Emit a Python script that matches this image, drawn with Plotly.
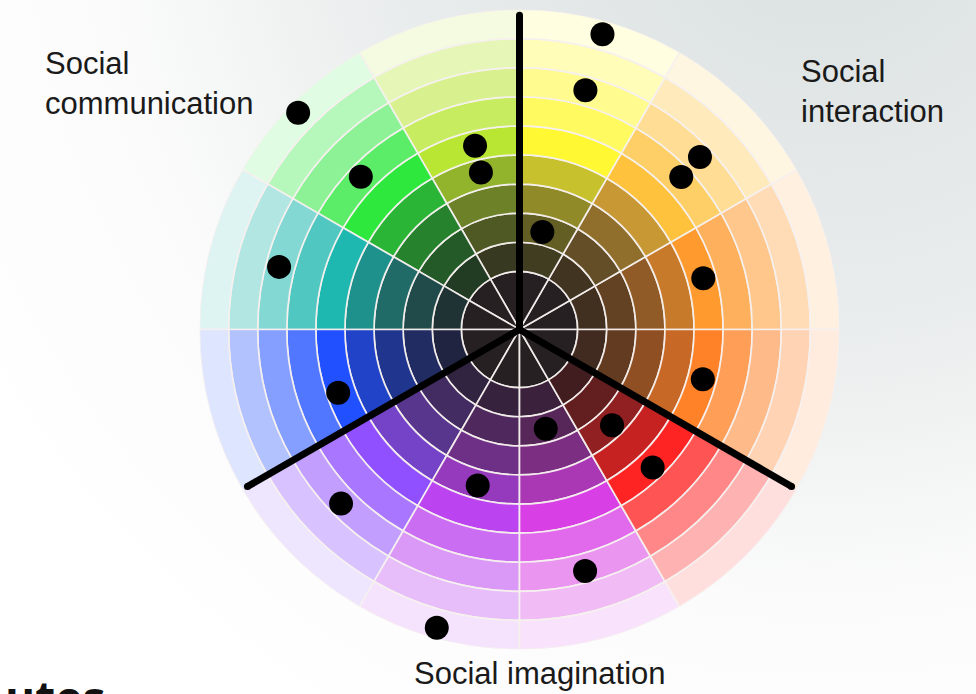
import plotly.graph_objects as go

W, H = 976, 694

# ---------------- data ----------------
sector_centers = [15, 45, 75, 105, 135, 165, 195, 225, 255, 285, 315, 345]
ring_edges = [0, 2, 3, 4, 5, 6, 7, 8, 9, 10, 11]   # inner disk, then 9 rings
divider_angles = [90, 210, 330]
divider_length = 10.8
dot_theta = [74.3, 74.6, 43.7, 43.3, 76.8, 15.6, 344.8, 314.0, 284.8, 314.0,
             285.2, 255.0, 224.3, 199.2, 254.5, 165.4, 136.1, 135.6, 103.6, 103.8]
dot_r = [10.54, 8.53, 8.58, 7.64, 3.44, 6.56, 6.53, 4.58, 3.53, 6.59,
         8.60, 5.55, 8.57, 6.60, 10.64, 8.54, 7.57, 10.65, 6.50, 5.56]
label_interaction = "Social<br>interaction"
label_communication = "Social<br>communication"
label_imagination = "Social imagination"
corner_text = "utes"

# ---------------- style ----------------
base_hex = ["#ff9a2e", "#ffc23c", "#fff833", "#b8e632", "#2ee83e", "#1fb8b0",
            "#2050ff", "#9050ff", "#bc44f0", "#d840e6", "#ff2424", "#ff8228"]
disk_color = "#262023"
dark = (32, 28, 30)
shade_w = {1: 0.15, 2: 0.30, 3: 0.50, 4: 0.75, 5: 1.0}
tint_w = {6: 0.22, 7: 0.45, 8: 0.65, 9: 0.85}


def hex2rgb(h):
    h = h.lstrip("#")
    return tuple(int(h[i:i + 2], 16) for i in (0, 2, 4))


def ring_color(base, k):
    r, g, b = hex2rgb(base)
    if k in shade_w:
        w = shade_w[k]
        c = [w * v + (1 - w) * d for v, d in zip((r, g, b), dark)]
    else:
        w = tint_w[k]
        c = [(1 - w) * v + w * 255 for v in (r, g, b)]
    return "rgb(%d,%d,%d)" % tuple(int(round(x)) for x in c)


fig = go.Figure()

# background gradient (cartesian, full paper)
cx, cy, S = 820, -120, 1000
fig.add_trace(go.Scatter(
    x=[cx - S, cx + S, cx + S, cx - S, cx - S],
    y=[cy - S, cy - S, cy + S, cy + S, cy - S],
    mode="lines", line=dict(width=0), fill="toself",
    fillgradient=dict(type="radial",
                      colorscale=[[0, "#d9dfdf"], [0.45, "#eaeded"], [0.72, "#fbfbfb"], [1, "#ffffff"]]),
    hoverinfo="skip", showlegend=False))

# wheel
for i in range(len(ring_edges) - 1):
    if i == 0:
        cols = [disk_color] * len(sector_centers)
    else:
        cols = [ring_color(b, i) for b in base_hex]
    fig.add_trace(go.Barpolar(
        theta=sector_centers,
        r=[ring_edges[i + 1] - ring_edges[i]] * len(sector_centers),
        base=[ring_edges[i]] * len(sector_centers),
        width=[30] * len(sector_centers),
        marker=dict(color=cols, line=dict(color="rgba(245,240,238,0.95)", width=1.7)),
        hoverinfo="skip", showlegend=False))

# thick dividers
for a in divider_angles:
    fig.add_trace(go.Scatterpolar(
        r=[0, divider_length], theta=[a, a], mode="lines+markers",
        line=dict(color="black", width=7),
        marker=dict(color="black", size=7),
        hoverinfo="skip", showlegend=False))

# dots
fig.add_trace(go.Scatterpolar(
    r=dot_r, theta=dot_theta, mode="markers",
    marker=dict(color="black", size=24, line=dict(width=0)),
    hoverinfo="skip", showlegend=False))

R = 320.0
pcx, pcy = 519.5, 329.5
label_font = dict(family="Liberation Sans, Arial, sans-serif", size=31, color="#1a1a1a")

fig.update_layout(
    width=W, height=H,
    margin=dict(l=0, r=0, t=0, b=0),
    paper_bgcolor="white", plot_bgcolor="white",
    showlegend=False,
    xaxis=dict(range=[0, W], visible=False, domain=[0, 1], fixedrange=True),
    yaxis=dict(range=[H, 0], visible=False, domain=[0, 1], fixedrange=True),
    polar=dict(
        domain=dict(x=[(pcx - R) / W, (pcx + R) / W],
                    y=[(H - pcy - R) / H, (H - pcy + R) / H]),
        bgcolor="rgba(0,0,0,0)", hole=0, bargap=0,
        radialaxis=dict(range=[0, 11], visible=False),
        angularaxis=dict(visible=False, rotation=0, direction="counterclockwise"),
    ),
    annotations=[
        dict(text=label_communication, x=43 / W, y=1 - 43.5 / H, xref="paper", yref="paper",
             xanchor="left", yanchor="top", align="left", showarrow=False, font=label_font),
        dict(text=label_interaction, x=799 / W, y=1 - 52 / H, xref="paper", yref="paper",
             xanchor="left", yanchor="top", align="left", showarrow=False, font=label_font),
        dict(text=label_imagination, x=668 / W, y=1 - 653.5 / H, xref="paper", yref="paper",
             xanchor="right", yanchor="top", align="left", showarrow=False, font=label_font),
        dict(text="<b>" + corner_text + "</b>", x=107 / W, y=1 - 664 / H, xref="paper", yref="paper",
             xanchor="right", yanchor="top", showarrow=False,
             font=dict(family="Open Sans, sans-serif", size=46, color="#111111")),
    ],
)

fig.write_html("out.html", config={"displayModeBar": False},
               post_script="document.body.style.margin='0px';document.body.style.overflow='hidden';")
